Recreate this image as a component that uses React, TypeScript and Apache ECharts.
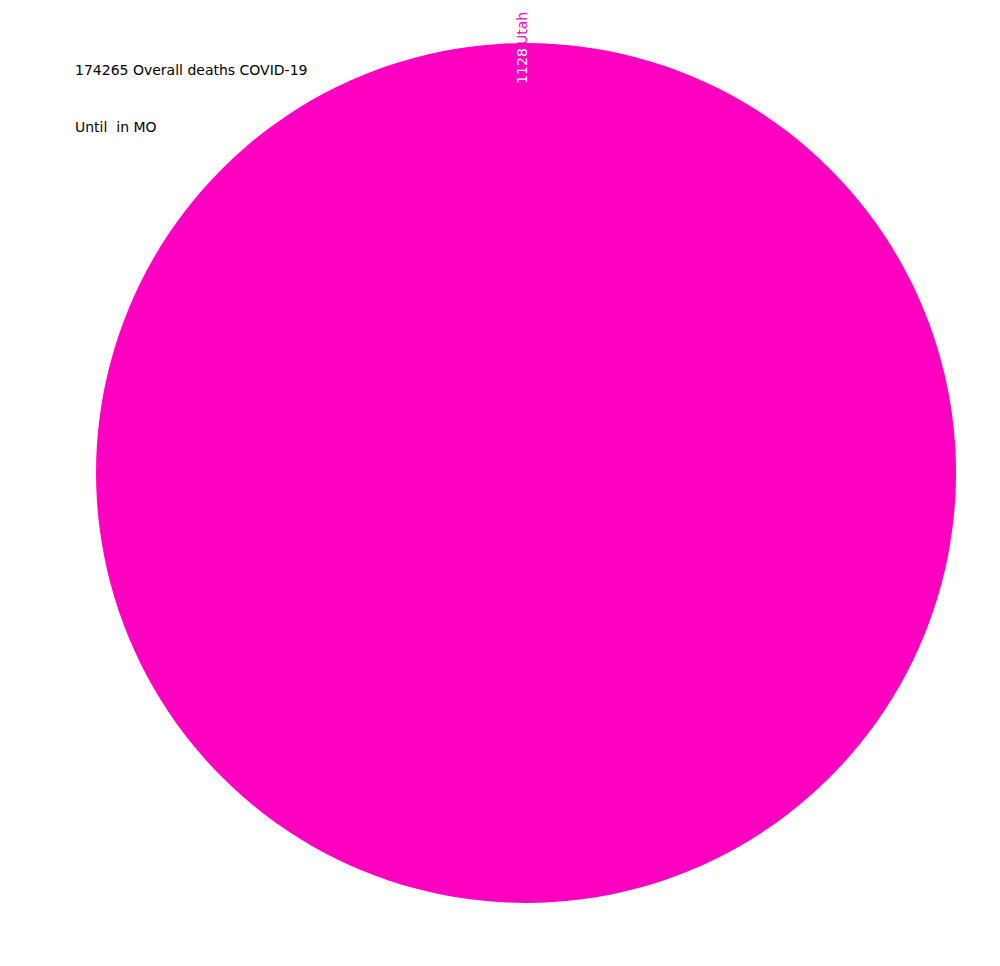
import React, { useEffect, useRef } from "react";
import * as echarts from "echarts";

const states = ["Utah"];
const deaths = [1128];
const titleLines = ["174265 Overall deaths COVID-19", "Until  in MO"];
const sliceColor = "#ff00c0";

export default function App() {
  const ref = useRef<HTMLDivElement>(null);
  useEffect(() => {
    document.body.style.margin = "0";
    const chart = echarts.init(ref.current!, null, { renderer: "svg" });
    const data = states.map((s, i) => ({ name: s, value: deaths[i] }));
    const font = "DejaVu Sans";
    chart.setOption({
      animation: false,
      color: [sliceColor],
      title: [
        { text: titleLines[0], left: 75, top: 63, padding: 0, textStyle: { fontSize: 14, fontWeight: "normal", color: "#000", fontFamily: font } },
        { text: titleLines[1], left: 75, top: 120, padding: 0, textStyle: { fontSize: 14, fontWeight: "normal", color: "#000", fontFamily: font } },
      ],
      series: [
        {
          type: "pie",
          center: [526, 473],
          radius: [0, 430],
          startAngle: 270,
          silent: true,
          label: { show: false },
          labelLine: { show: false },
          itemStyle: { color: sliceColor, borderWidth: 0 },
          data,
        },
        {
          type: "pie",
          center: [526, 473],
          radius: [386, 430],
          startAngle: 270,
          silent: true,
          itemStyle: { color: "transparent", borderWidth: 0 },
          label: { show: true, position: "inside", rotate: 90, offset: [-4, -4], formatter: "{c}", color: "#fff", fontSize: 14, fontFamily: font },
          labelLine: { show: false },
          data,
        },
        {
          type: "pie",
          center: [526, 473],
          radius: [430, 461],
          startAngle: 270,
          silent: true,
          itemStyle: { color: "transparent", borderWidth: 0 },
          label: { show: true, position: "inside", rotate: 90, offset: [-4, -4], formatter: "{b}", color: sliceColor, fontSize: 14, fontFamily: font },
          labelLine: { show: false },
          data,
        },
      ],
    });
    return () => chart.dispose();
  }, []);
  return <div ref={ref} style={{ width: 1000, height: 966 }} />;
}
